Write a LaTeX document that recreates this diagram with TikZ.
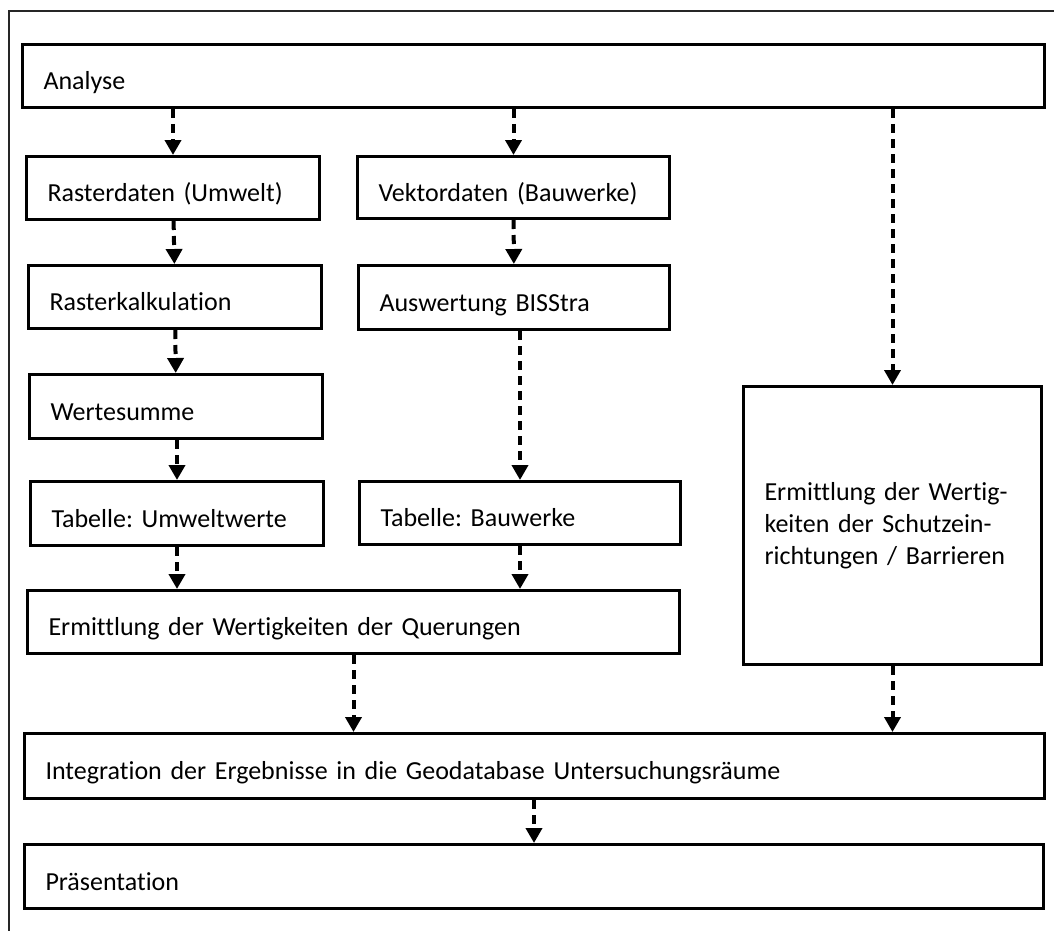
\documentclass[tikz,border=0pt]{standalone}
\usepackage{fontspec}
\setmainfont{Carlito}[Ligatures=NoCommon]
\frenchspacing
\usetikzlibrary{arrows.meta}

\tikzset{
  box/.style={draw,rectangle,line width=3pt,anchor=north west,inner xsep=21pt,inner ysep=0pt,
    align=left,font=\fontsize{26}{32}\selectfont},
  % one line of text, set a bit below the middle
  oneline/.style={box,text height=30pt,text depth=3pt},
  flow/.style={line width=4pt,dash pattern=on 9pt off 6pt,-{Triangle[length=15pt,width=16pt]}}
}

\begin{document}
\begin{tikzpicture}[x=1pt,y=-1pt]
        \useasboundingbox (0,0) rectangle (1054,931);
        \draw[line width=1.2pt,black!85] (1054,11) -- (9,11) -- (9,931);

        \node[oneline,minimum width=1022pt,minimum height=63pt,text width=980pt] (analyse) at (21,43) {Analyse};

        \node[oneline,minimum width=293pt,minimum height=63pt,text width=251pt] (raster) at (25,155) {Rasterdaten (Umwelt)};
        \node[oneline,minimum width=312pt,minimum height=62pt,text width=270pt] (vektor) at (356,155) {Vektordaten (Bauwerke)};

        \node[oneline,minimum width=293pt,minimum height=63pt,text width=251pt] (rkalk) at (27,264) {Rasterkalkulation};
        \node[oneline,minimum width=311pt,minimum height=64pt,text width=269pt] (bisstra) at (357,264) {Auswertung BISStra};

        \node[oneline,minimum width=293pt,minimum height=64pt,text width=251pt] (summe) at (28,373) {Wertesumme};

        \node[oneline,minimum width=293pt,minimum height=64pt,text width=251pt] (tabumwelt) at (29,480) {Tabelle: Umweltwerte};
        \node[oneline,minimum width=321pt,minimum height=63pt,text width=279pt] (tabbau) at (358,480) {Tabelle: Bauwerke};

        \node[oneline,minimum width=652pt,minimum height=63pt,text width=610pt] (querung) at (26,589) {Ermittlung der Wertigkeiten der Querungen};

        \node[box,minimum width=298pt,minimum height=278pt,text width=256pt] (schutz) at (742,385)
            {Ermittlung der Wertig-\\keiten der Schutzein-\\richtungen / Barrieren};

        \node[oneline,minimum width=1020pt,minimum height=65pt,text width=978pt] (integration) at (23,732) {Integration der Ergebnisse in die Geodatabase Untersuchungsräume};
        \node[oneline,minimum width=1019pt,minimum height=64pt,text width=977pt] (praesent) at (23,843) {Präsentation};

        \draw[flow] (analyse.south -| raster.north) -- (raster.north);
        \draw[flow] (analyse.south -| vektor.north) -- (vektor.north);
        \draw[flow] (analyse.south -| schutz.north) -- (schutz.north);

        \draw[flow] (raster) -- (rkalk);
        \draw[flow] (vektor) -- (bisstra);
        \draw[flow] (rkalk) -- (summe);
        \draw[flow] (summe.south -| tabumwelt.north) -- (tabumwelt.north);
        \draw[flow] (bisstra.south -| tabbau.north) -- (tabbau.north);

        \draw[flow] (tabumwelt.south) -- (tabumwelt.south |- querung.north);
        \draw[flow] (tabbau.south) -- (tabbau.south |- querung.north);

        \draw[flow] (querung.south) -- (querung.south |- integration.north);
        \draw[flow] (schutz.south) -- (schutz.south |- integration.north);
        \draw[flow] (integration.south -| praesent.north) -- (praesent.north);

    \end{tikzpicture}
\end{document}
